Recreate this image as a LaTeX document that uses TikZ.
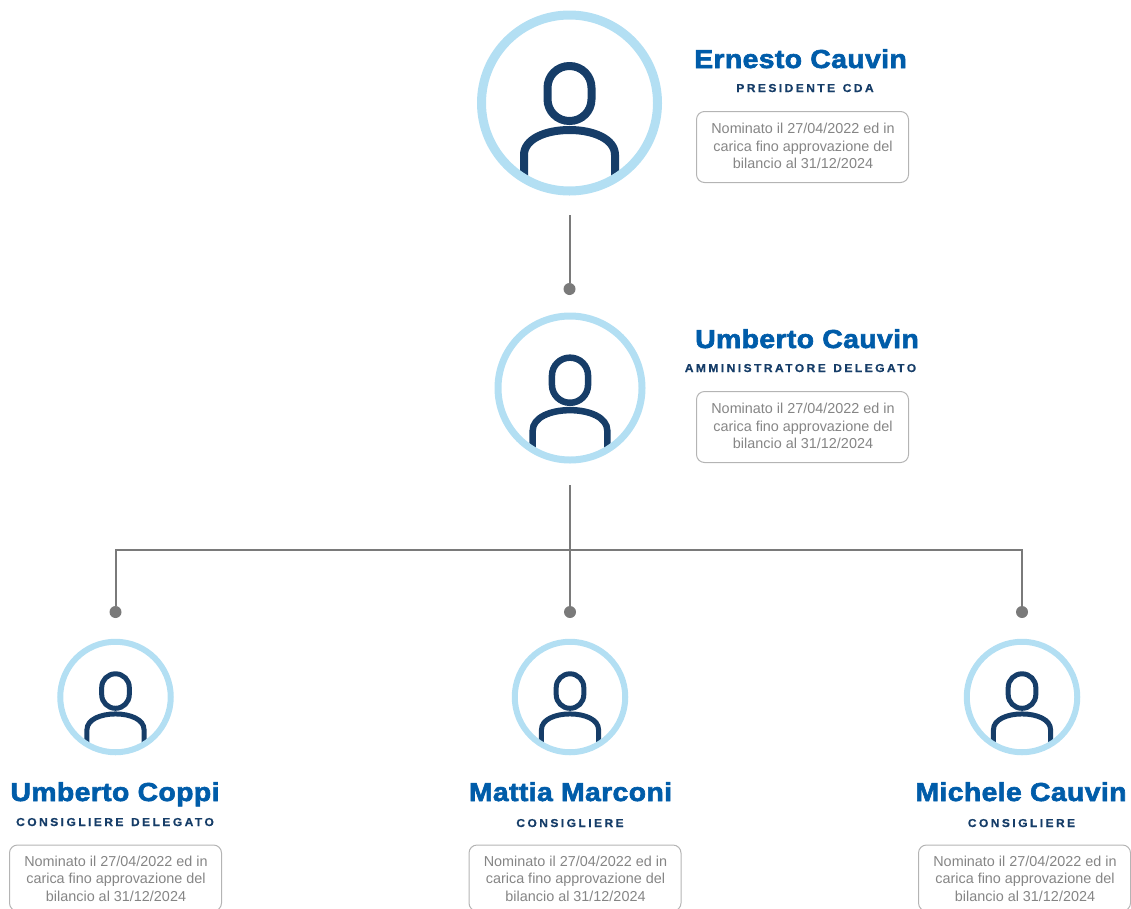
\documentclass[tikz,border=0pt]{standalone}
\usepackage{fontspec}
\setmainfont{Liberation Sans}
\newfontfamily\namefont[FakeStretch=1.09,FakeBold=2.4,LetterSpace=1.5]{Liberation Sans Bold}
\newfontfamily\rolefont[LetterSpace=21,FakeStretch=1.05,FakeBold=0.5,WordSpace=1.3]{Liberation Sans Bold}
\definecolor{ringc}{HTML}{B3DFF3}
\definecolor{iconc}{HTML}{163D68}
\definecolor{namec}{HTML}{005CA9}
\definecolor{linec}{HTML}{7A7A7A}
\definecolor{boxc}{HTML}{B4B4B4}
\definecolor{textc}{HTML}{858585}
\tikzset{
  ringbig/.style={circle,draw=ringc,line width=9pt,minimum size=176pt,inner sep=0pt},
  ringmid/.style={circle,draw=ringc,line width=7pt,minimum size=144pt,inner sep=0pt},
  ringsmall/.style={circle,draw=ringc,line width=6pt,minimum size=110.5pt,inner sep=0pt},
  namelabel/.style={anchor=base,text=namec,font=\namefont\fontsize{26}{26}\selectfont,inner sep=0pt},
  rolelabel/.style={anchor=base,text=iconc,font=\rolefont\fontsize{11.5}{11.5}\selectfont,inner sep=0pt},
  infobox/.style={draw=boxc,line width=1pt,rounded corners=8pt,minimum width=212pt,inner sep=0pt},
  infocopy/.style={text=textc,align=center,font=\fontsize{14.4}{17.5}\selectfont,inner sep=0pt},
  enddot/.style={circle,fill=linec,minimum size=12pt,inner sep=0pt},
  link/.style={draw=linec,line width=2pt}
}
\newcommand{\infotext}{Nominato il 27/04/2022 ed in\\carica fino approvazione del\\bilancio al 31/12/2024}
\newcommand{\personicon}[4]{%
\begin{scope}[shift={(#1,#2)},scale=#3]
  \begin{scope}
  \clip (0,0) circle (87);
  \draw[iconc,line width=#4pt,rounded corners=#3*21.8pt] (-22,-37) rectangle (22,18);
  \draw[iconc,line width=#4pt] (-45.5,90) -- (-45.5,52) .. controls (-45.5,36) and (-24,27) .. (0,27) .. controls (24,27) and (45.5,36) .. (45.5,52) -- (45.5,90);
  \end{scope}
\end{scope}}
\begin{document}
\begin{tikzpicture}[x=1pt,y=-1pt]
\useasboundingbox (0,0) rectangle (1131,908);
\clip (0,0) rectangle (1131,908);
% icons
\personicon{569.5}{103}{1}{8}
\personicon{570}{388}{0.82}{6.5}
\personicon{115.5}{697}{0.627}{5}
\personicon{570}{697}{0.627}{5}
\personicon{1022}{697}{0.627}{5}
% rings
\node[ringbig] (r1) at (569.5,103) {};
\node[ringmid] (r2) at (570,388) {};
\node[ringsmall] (r3) at (115.5,697) {};
\node[ringsmall] (r4) at (570,697) {};
\node[ringsmall] (r5) at (1022,697) {};
% connector nodes
\coordinate (c1) at (569.5,215);
\node[enddot] (d1) at (569.5,289) {};
\coordinate (c2) at (570,485);
\coordinate (jl) at (115.5,550);
\coordinate (jr) at (1022,550);
\node[enddot] (d3) at (115.5,612) {};
\node[enddot] (d4) at (570,612) {};
\node[enddot] (d5) at (1022,612) {};
\draw[link] (c1) -- (d1);
\draw[link] (c2) -- (d4);
\draw[link] (d3) -- (jl) -- (jr) -- (d5);
% labels
\node[namelabel] (n1) at (800.5,68) {Ernesto Cauvin};
\node[rolelabel] (t1) at (805,92) {PRESIDENTE CDA};
\node[infobox,minimum height=71pt] (b1) at (802.5,147) {};
\node[infocopy] (x1) at (803,146) {\infotext};
\node[namelabel] (n2) at (807,348) {Umberto Cauvin};
\node[rolelabel] (t2) at (800.5,372) {AMMINISTRATORE DELEGATO};
\node[infobox,minimum height=71pt] (b2) at (802.5,427) {};
\node[infocopy] (x2) at (803,426) {\infotext};
\node[namelabel] (n3) at (115,801) {Umberto Coppi};
\node[rolelabel] (t3) at (115,826) {CONSIGLIERE DELEGATO};
\node[infobox,minimum height=66pt] (b3) at (115.5,878) {};
\node[infocopy] (x3) at (116,878.5) {\infotext};
\node[namelabel] (n4) at (570.5,801) {Mattia Marconi};
\node[rolelabel] (t4) at (570,827) {CONSIGLIERE};
\node[infobox,minimum height=66pt] (b4) at (575,878) {};
\node[infocopy] (x4) at (575.5,878.5) {\infotext};
\node[namelabel] (n5) at (1021,801) {Michele Cauvin};
\node[rolelabel] (t5) at (1021.5,827) {CONSIGLIERE};
\node[infobox,minimum height=66pt] (b5) at (1024.5,878) {};
\node[infocopy] (x5) at (1025,878.5) {\infotext};
\end{tikzpicture}
\end{document}
